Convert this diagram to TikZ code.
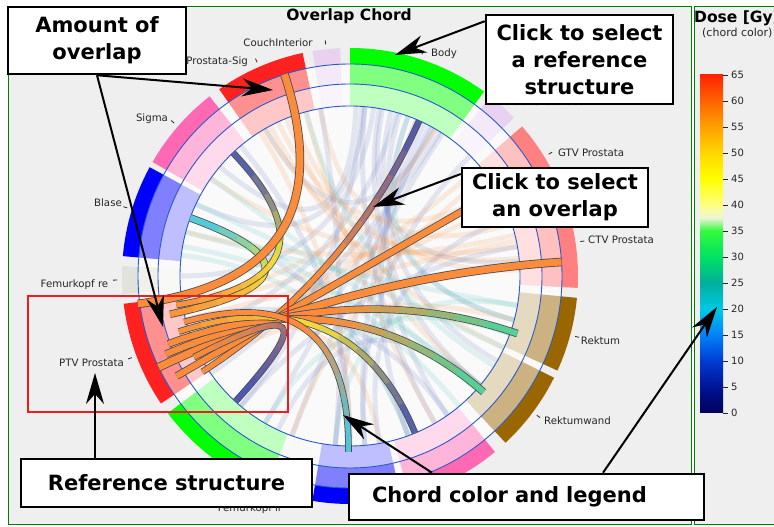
\documentclass[tikz,border=0pt]{standalone}
\usepackage{fontspec}
\setmainfont{DejaVu Sans}
\usetikzlibrary{calc,arrows.meta}

\definecolor{panelbg}{RGB}{239,239,239}
\definecolor{discbg}{RGB}{250,250,250}
\definecolor{pgreen}{RGB}{0,128,0}
\definecolor{circblue}{RGB}{40,90,200}
\definecolor{segred}{RGB}{255,32,32}
\definecolor{seglred}{RGB}{255,128,128}
\definecolor{segpink}{RGB}{255,105,180}
\definecolor{segblue}{RGB}{0,0,255}
\definecolor{seggreen}{RGB}{0,255,0}
\definecolor{segbrown}{RGB}{153,102,0}
\definecolor{seglilac}{RGB}{232,210,240}
\definecolor{segpale}{RGB}{226,226,220}
\definecolor{orng}{RGB}{250,140,60}
\definecolor{yel}{RGB}{240,225,60}
\definecolor{chblue}{RGB}{70,85,180}
\definecolor{chcyan}{RGB}{70,200,230}
\definecolor{chmint}{RGB}{70,215,160}
\definecolor{fblue}{RGB}{120,135,200}
\definecolor{forange}{RGB}{245,160,90}
\definecolor{fteal}{RGB}{100,200,190}
\definecolor{lbl}{RGB}{38,38,38}
\definecolor{refred}{RGB}{238,28,28}
\definecolor{cb0}{RGB}{0,0,90}
\definecolor{cb5}{RGB}{0,20,150}
\definecolor{cb10}{RGB}{0,60,210}
\definecolor{cb15}{RGB}{0,130,250}
\definecolor{cb20}{RGB}{0,200,230}
\definecolor{cb25}{RGB}{0,175,155}
\definecolor{cb30}{RGB}{0,225,100}
\definecolor{cb35}{RGB}{50,250,60}
\definecolor{cb375}{RGB}{235,245,215}
\definecolor{cb40}{RGB}{255,255,130}
\definecolor{cb45}{RGB}{255,255,0}
\definecolor{cb50}{RGB}{255,215,0}
\definecolor{cb55}{RGB}{255,160,0}
\definecolor{cb60}{RGB}{255,100,0}
\definecolor{cb65}{RGB}{255,35,0}

% segment band: start angle, end angle, colour
\newcommand{\segband}[3]{%
  \fill[#3] ($(O)+(#1:228)$) arc[start angle=#1,end angle=#2,radius=228]
     -- ($(O)+(#2:212)$) arc[start angle=#2,end angle=#1,radius=212] -- cycle;
  \fill[#3!50!white] ($(O)+(#1:212)$) arc[start angle=#1,end angle=#2,radius=212]
     -- ($(O)+(#2:192)$) arc[start angle=#2,end angle=#1,radius=192] -- cycle;
  \fill[#3!25!white] ($(O)+(#1:192)$) arc[start angle=#1,end angle=#2,radius=192]
     -- ($(O)+(#2:170)$) arc[start angle=#2,end angle=#1,radius=170] -- cycle;
}

% gradient chord: S, T, width, colour at S, middle colour, colour at T, pieces
\newcommand{\gchord}[7]{%
  \draw[line width=#3+1.6, draw=black!70] (#1) .. controls ($(#1)!0.6667!(O)$) and ($(#2)!0.6667!(O)$) .. (#2);
  \foreach \k in {1,...,#7} {%
    \pgfmathsetmacro\gta{max(0,(\k-1)/#7-0.015)}%
    \pgfmathsetmacro\gtb{\k/#7}%
    \pgfmathsetmacro\gtm{(\k-0.5)/#7}%
    \pgfmathtruncatemacro\gpa{min(100,200*\gtm)}%
    \pgfmathtruncatemacro\gpb{max(0,200*\gtm-100)}%
    \colorlet{gA}{#5!\gpa!#4}%
    \colorlet{gB}{#6!\gpb!gA}%
    \coordinate (gu) at ($(#1)!\gta!(O)$);
    \coordinate (gv) at ($(O)!\gta!(#2)$);
    \coordinate (gp) at ($(gu)!\gta!(gv)$);
    \coordinate (gq) at ($(gu)!\gtb!(gv)$);
    \coordinate (gw) at ($(#1)!\gtb!(O)$);
    \coordinate (gz) at ($(O)!\gtb!(#2)$);
    \coordinate (gr) at ($(gw)!\gtb!(gz)$);
    \draw[line width=#3, draw=gB] (gp) .. controls ($(gp)!0.6667!(gq)$) and ($(gr)!0.6667!(gq)$) .. (gr);
  }%
}

\tikzset{
  faintch/.style={line width=5pt, draw opacity=0.18},
  circ/.style={draw=circblue, line width=0.9pt},
  lbltick/.style={draw=lbl, line width=0.8pt},
  seglabel/.style={text=lbl, font=\fontsize{10.2}{12}\selectfont, inner sep=0pt},
  callout/.style={draw=black, line width=2.5pt, fill=white, inner sep=0pt, align=center,
     font=\fontsize{21}{27}\selectfont\bfseries},
  callarrow/.style={line width=2pt, -{Stealth[length=31pt, width=18pt, inset=10pt]}},
  cbtick/.style={font=\fontsize{10}{12}\selectfont, text=lbl, anchor=west, inner sep=0pt}
}

\begin{document}
\begin{tikzpicture}[x=1pt,y=1pt]
\clip (0,0) rectangle (774,527);
\fill[white] (0,0) rectangle (774,527);
% panels
\draw[pgreen, line width=1pt, fill=panelbg] (8,2) rectangle (691,520);
\draw[pgreen, line width=1pt, fill=panelbg] (694,2) rectangle (800,520);

\coordinate (O) at (350,251);
\fill[discbg] (O) circle[radius=212];

% faint background chords
\foreach \fa/\fb/\fc in {58/215/fblue, 61/240/fblue, 64/265/fblue, 67/290/fblue, 70/305/fblue,
  73/330/fblue, 76/345/fblue, 79/5/fblue, 82/180/fblue, 85/155/fblue, 88/140/fblue, 60/120/fblue,
  86/230/fblue, 62/275/fblue, 74/200/fblue, 57/250/fblue, 80/320/fblue,
  2/110/forange, 6/120/forange, 10/145/forange, 14/165/forange, 18/100/forange, 25/205/forange,
  30/115/forange, 36/250/forange, 105/300/forange, 112/320/forange, 118/335/forange, 122/270/forange,
  190/30/forange, 195/12/forange, 208/40/forange, 212/345/forange, 188/60/forange, 205/280/forange,
  155/335/fteal, 160/310/fteal, 165/350/fteal, 170/320/fteal, 173/290/fteal, 340/240/fteal,
  350/265/fteal, 318/145/fteal, 328/105/fteal, 345/70/fteal,
  265/100/fblue, 270/130/fblue, 275/45/fblue, 280/20/fblue, 290/160/fblue, 300/85/fblue,
  305/195/fblue, 230/10/fblue, 245/320/fblue} {
  \draw[faintch, draw=\fc] ($(O)+(\fa:170)$) .. controls ($(O)+(\fa:56.7)$) and ($(O)+(\fb:56.7)$) .. ($(O)+(\fb:170)$);
}

% segment bands
\segband{357}{380}{seglred}
\segband{22}{41}{seglred}
\segband{44}{52}{seglilac}
\segband{54}{90}{seggreen}
\segband{92.5}{99.5}{seglilac}
\segband{102}{125}{segred}
\segband{128}{150}{segpink}
\segband{151.5}{175}{segblue}
\segband{177.5}{184.5}{segpale}
\segband{187}{214}{segred}
\segband{217}{248.5}{seggreen}
\segband{250.5}{257.5}{segpale}
\segband{260.5}{283}{segblue}
\segband{285}{309.5}{segpink}
\segband{313}{333.5}{segbrown}
\segband{335.5}{354.5}{segbrown}

% rings
\draw[circ] (O) circle[radius=170];
\draw[circ] (O) circle[radius=192];
\draw[circ] (O) circle[radius=212];

% label ticks
\foreach \ta in {96,113.5,139,163,181,200.5,72,48,31.5,8.5,-15,-36.7,-106} {
  \draw[lbltick] ($(O)+(\ta:233)$) -- ($(O)+(\ta:237)$);
}

% segment labels
\node[seglabel] (lCI) at (278,484) {CouchInterior};
\node[seglabel, anchor=east] (lPS) at (248,465) {Prostata-Sig};
\node[seglabel] (lSig) at (152,408) {Sigma};
\node[seglabel] (lBla) at (108,324) {Blase};
\node[seglabel] (lFre) at (74.5,242) {Femurkopf re};
\node[seglabel] (lPTV) at (91.5,164) {PTV Prostata};
\node[seglabel, anchor=east] (lFli) at (281,18) {Femurkopf li};
\node[seglabel] (lBody) at (444,473) {Body};
\node[seglabel, anchor=west] (lCS) at (513,425) {CouchSurface};
\node[seglabel] (lGTV) at (591,374) {GTV Prostata};
\node[seglabel] (lCTV) at (621,287) {CTV Prostata};
\node[seglabel] (lRek) at (600.5,186) {Rektum};
\node[seglabel] (lRw) at (577.5,106) {Rektumwand};

% chord end points
\coordinate (sPS)  at ($(O)+(187.5:214)$);  \coordinate (tPS)  at ($(O)+(108:212)$);
\coordinate (sSig) at ($(O)+(189.5:176)$);  \coordinate (tSig) at ($(O)+(133.5:170)$);
\coordinate (sBla) at ($(O)+(192:184)$);    \coordinate (tBla) at ($(O)+(160:170)$);
\coordinate (sFl)  at ($(O)+(195.5:172)$);  \coordinate (tFl)  at ($(O)+(-90.5:176)$);
\coordinate (sPk)  at ($(O)+(198:180)$);    \coordinate (tPk)  at ($(O)+(-67.5:170)$);
\coordinate (sRw)  at ($(O)+(200.5:194)$);  \coordinate (tRw)  at ($(O)+(-41:177)$);
\coordinate (sRek) at ($(O)+(203:200)$);    \coordinate (tRek) at ($(O)+(-19:177)$);
\coordinate (sCTV) at ($(O)+(205.5:212)$);  \coordinate (tCTV) at ($(O)+(3.8:212)$);
\coordinate (sGr)  at ($(O)+(207.5:176)$);  \coordinate (tGr)  at ($(O)+(227.6:170)$);
\coordinate (sGTV) at ($(O)+(210:200)$);    \coordinate (tGTV) at ($(O)+(30:192)$);
\coordinate (sBod) at ($(O)+(213:176)$);    \coordinate (tBod) at ($(O)+(66:170)$);

% highlighted chords
\gchord{sBod}{tBod}{5}{orng}{orng}{chblue}{12}
\gchord{sGTV}{tGTV}{6}{orng}{orng}{orng}{1}
\gchord{sCTV}{tCTV}{7}{orng}{orng}{orng}{1}
\gchord{sRek}{tRek}{6}{orng}{orng}{chmint}{12}
\gchord{sRw}{tRw}{6}{orng}{orng}{chmint}{12}
\gchord{sPk}{tPk}{5}{orng}{yel}{chblue}{12}
\gchord{sFl}{tFl}{5}{orng}{orng}{chcyan}{12}
\gchord{sGr}{tGr}{5}{orng}{chblue!45!orng}{chblue}{12}
\gchord{sBla}{tBla}{6}{orng}{yel}{chcyan}{12}
\gchord{sSig}{tSig}{5}{orng}{yel}{chblue}{12}
\gchord{sPS}{tPS}{7}{orng}{orng}{orng}{1}

% reference structure frame
\draw[refred, line width=2.6pt] (28,115) rectangle (288,231);

% title
\node[font=\fontsize{15.5}{18}\selectfont\bfseries, text=black] (title) at (349,511) {Overlap Chord};

% colour bar
\foreach \lo/\hi/\ca/\cbb in {0/5/cb0/cb5, 5/10/cb5/cb10, 10/15/cb10/cb15, 15/20/cb15/cb20,
  20/25/cb20/cb25, 25/30/cb25/cb30, 30/35/cb30/cb35, 35/37.5/cb35/cb375, 37.5/40/cb375/cb40,
  40/45/cb40/cb45, 45/50/cb45/cb50, 50/55/cb50/cb55, 55/60/cb55/cb60, 60/65/cb60/cb65} {
  \shade[bottom color=\ca, top color=\cbb] (700,{114+5.2*\lo}) rectangle (723,{114.3+5.2*\hi});
}
\foreach \v in {0,5,...,65} {
  \draw[lbl, line width=0.8pt] (723,{114+5.2*\v}) -- (728,{114+5.2*\v});
  \node[cbtick] (cbt\v) at (731,{114+5.2*\v}) {\v};
}
\node[anchor=west, inner sep=0pt, font=\fontsize{15.5}{18}\selectfont\bfseries] (cbtitle) at (694,509) {Dose [Gy]};
\node[anchor=west, inner sep=0pt, text=lbl, font=\fontsize{11}{13}\selectfont] (cbsub) at (702,494) {(chord color)};

% callouts
\node[callout, minimum width=178pt, minimum height=67pt] (bAmt) at (97,486.5) {Amount of\\overlap};
\node[callout, minimum width=187pt, minimum height=89pt] (bRef) at (579.5,467.5) {Click to select\\a reference\\structure};
\node[callout, minimum width=186pt, minimum height=59pt] (bOvl) at (555,329.5) {Click to select\\an overlap};
\node[callout, minimum width=291pt, minimum height=48pt] (bRS) at (166.5,44) {Reference structure};
\node[callout, minimum width=355pt, minimum height=46pt, text width=309pt, align=left] (bCol) at (526.5,30) {Chord color and legend};

\coordinate (tAmt1) at (273,437);
\coordinate (tAmt2) at (163,200);
\coordinate (tRef) at (395,472);
\coordinate (tOvl) at (373,320);
\coordinate (tRS) at (95,154);
\coordinate (tCol1) at (343,112);
\coordinate (tCol2) at (717,220);
\coordinate (xCol1) at (432,0);
\coordinate (xCol2) at (603,0);

\draw[callarrow] (bAmt.south) -- (tAmt1);
\draw[callarrow] (bAmt.south) -- (tAmt2);
\draw[callarrow] (bRef.158) -- (tRef);
\draw[callarrow] (bOvl.166) -- (tOvl);
\draw[callarrow] (bRS.north -| tRS) -- (tRS);
\draw[callarrow] (bCol.north -| xCol1) -- (tCol1);
\draw[callarrow] (bCol.north -| xCol2) -- (tCol2);
\end{tikzpicture}
\end{document}
